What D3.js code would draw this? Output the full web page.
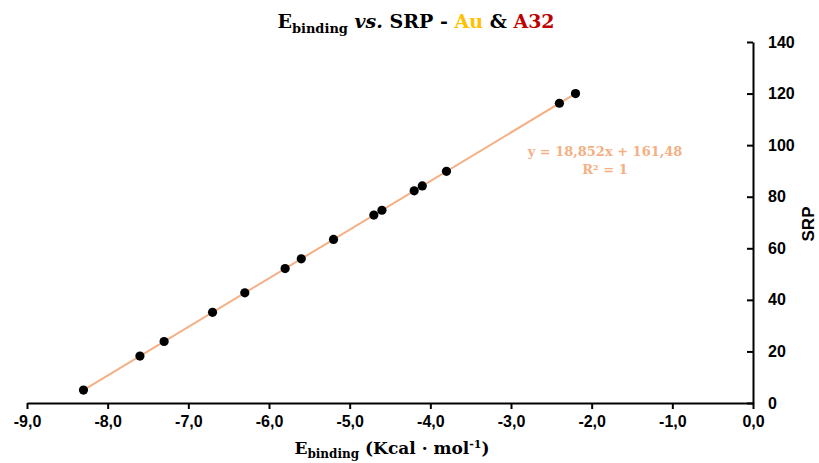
<!DOCTYPE html>
<html><head><meta charset="utf-8">
<script src="https://cdn.jsdelivr.net/npm/d3@7"></script>
<style>body{margin:0;background:#fff}svg{display:block}</style>
</head><body>
<svg id="c" width="819" height="463"></svg>
<script>
// Data
const eBinding = [-8.3,-7.6,-7.3,-6.7,-6.3,-5.8,-5.6,-5.2,-4.7,-4.6,-4.2,-4.1,-3.8,-2.4,-2.2];
const srp = [5.01,18.20,23.86,35.17,42.71,52.14,55.91,63.45,72.88,74.76,82.30,84.19,89.84,116.24,120.01];
const xTicks = [-9,-8,-7,-6,-5,-4,-3,-2,-1,0];
const yTicks = [0,20,40,60,80,100,120,140];
const trendSlope = 18.852, trendIntercept = 161.48;
const trendX = [-8.3,-2.2];
const eqLines = ["y = 18,852x + 161,48", "R² = 1"];

const svg = d3.select("#c");
const x = d3.scaleLinear().domain([-9,0]).range([27,753]);
const y = d3.scaleLinear().domain([0,140]).range([403,42]);
const loc = d3.formatLocale({decimal:",",thousands:".",grouping:[3],currency:["",""],minus:"-"});
const fx = loc.format(".1f");

const tickFont = "'Liberation Sans', Arial, sans-serif";
const serif = "'DejaVu Serif', Cambria, serif";

// x axis
const gx = svg.append("g").attr("transform",`translate(0,${y(0)})`)
  .call(d3.axisBottom(x).tickValues(xTicks).tickFormat(fx).tickSize(6).tickSizeOuter(0));
gx.select(".domain").attr("stroke","#000").attr("stroke-width",2);
gx.selectAll(".tick line").attr("stroke","#000").attr("stroke-width",2);
gx.selectAll(".tick text").attr("font-family",tickFont).attr("font-weight","bold")
  .attr("font-size",16).attr("fill","#000").attr("dy","0.95em");

// y axis (right side, ticks pointing inward)
const gy = svg.append("g").attr("transform",`translate(${x(0)},0)`)
  .call(d3.axisRight(y).tickValues(yTicks).tickSize(0).tickPadding(15));
gy.select(".domain").attr("stroke","#000").attr("stroke-width",2);
gy.selectAll(".tick").append("line").attr("x1",-6).attr("x2",0).attr("stroke","#000").attr("stroke-width",2);
gy.selectAll(".tick text").attr("font-family",tickFont).attr("font-weight","bold")
  .attr("font-size",16).attr("fill","#000");

// trendline
svg.append("line")
  .attr("x1",x(trendX[0])).attr("y1",y(trendSlope*trendX[0]+trendIntercept))
  .attr("x2",x(trendX[1])).attr("y2",y(trendSlope*trendX[1]+trendIntercept))
  .attr("stroke","#f4b084").attr("stroke-width",2);

// points
svg.append("g").selectAll("circle").data(eBinding).join("circle")
  .attr("cx",d=>x(d)).attr("cy",(d,i)=>y(srp[i])).attr("r",4.6)
  .attr("fill","#000");

// equation
const eq = svg.append("text").attr("font-family",serif).attr("font-weight","bold")
  .attr("font-size",13).attr("fill","#f4b084").attr("text-anchor","middle");
eq.append("tspan").attr("x",605).attr("y",156).text(eqLines[0]);
eq.append("tspan").attr("x",605).attr("y",174).text(eqLines[1]);

// title
const t = svg.append("text").attr("x",416).attr("y",28).attr("text-anchor","middle")
  .attr("font-family",serif).attr("font-weight","bold").attr("font-size",19).attr("fill","#000");
t.append("tspan").text("E");
t.append("tspan").attr("font-size",13).attr("dy",5).text("binding");
t.append("tspan").attr("dy",-5).attr("font-style","italic").text(" vs.");
t.append("tspan").text(" SRP - ");
t.append("tspan").attr("fill","#ffc000").text("Au");
t.append("tspan").text(" & ");
t.append("tspan").attr("fill","#c00000").text("A32");

// x label
const xl = svg.append("text").attr("x",392).attr("y",454).attr("text-anchor","middle")
  .attr("font-family",serif).attr("font-weight","bold").attr("font-size",17).attr("fill","#000");
xl.append("tspan").text("E");
xl.append("tspan").attr("font-size",12).attr("dy",4).text("binding");
xl.append("tspan").attr("dy",-4).text(" (Kcal · mol");
xl.append("tspan").attr("font-size",11).attr("dy",-6).text("-1");
xl.append("tspan").attr("dy",6).text(")");

// y label
svg.append("text").attr("transform","translate(814,224) rotate(-90)").attr("text-anchor","middle")
  .attr("font-family",tickFont).attr("font-weight","bold").attr("font-size",17).attr("fill","#000")
  .text("SRP");
</script>
</body></html>
